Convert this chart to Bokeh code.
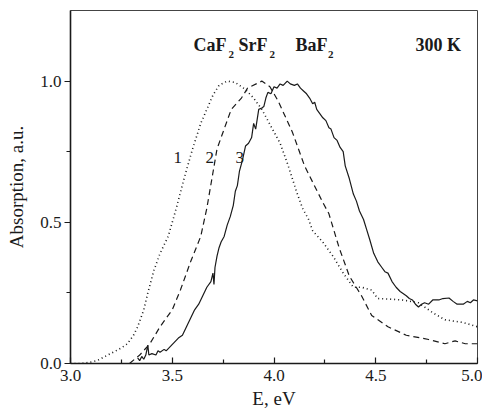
from bokeh.plotting import figure
from bokeh.models import Range1d, FixedTicker, Label, PrintfTickFormatter
from bokeh.embed import file_html
from bokeh.resources import INLINE

# Curve 1: CaF2 (dotted)
E1 = [3.00, 3.05, 3.10, 3.13, 3.17, 3.21, 3.25, 3.28, 3.31, 3.33, 3.36, 3.38, 3.41, 3.44,
      3.48, 3.52, 3.56, 3.60, 3.64, 3.67, 3.70, 3.73, 3.77, 3.81, 3.86, 3.90, 3.94, 4.00,
      4.03, 4.07, 4.11, 4.14, 4.17, 4.19, 4.24, 4.29, 4.34, 4.39, 4.43, 4.48, 4.51, 4.57,
      4.63, 4.71, 4.78, 4.84, 4.93, 5.00]
A1 = [0.0, 0.0, 0.005, 0.01, 0.025, 0.04, 0.055, 0.07, 0.10, 0.13, 0.19, 0.25, 0.33, 0.39,
      0.45, 0.55, 0.66, 0.76, 0.85, 0.90, 0.95, 0.985, 1.0, 0.995, 0.97, 0.94, 0.90, 0.82,
      0.78, 0.70, 0.61, 0.55, 0.51, 0.47, 0.43, 0.38, 0.32, 0.27, 0.27, 0.26, 0.23, 0.228,
      0.225, 0.215, 0.18, 0.155, 0.145, 0.13]

# Curve 2: SrF2 (dashed)
E2 = [3.29, 3.34, 3.39, 3.44, 3.50, 3.54, 3.59, 3.64, 3.67, 3.72, 3.79, 3.84, 3.87, 3.94,
      3.98, 4.02, 4.09, 4.15, 4.24, 4.27, 4.32, 4.37, 4.43, 4.48, 4.56, 4.65, 4.76, 4.84,
      4.89, 4.94, 5.00]
A2 = [0.0, 0.03, 0.07, 0.13, 0.19, 0.26, 0.36, 0.45, 0.55, 0.76, 0.90, 0.94, 0.975, 1.0,
      0.98, 0.93, 0.82, 0.70, 0.57, 0.53, 0.41, 0.31, 0.24, 0.17, 0.13, 0.10, 0.085, 0.07,
      0.08, 0.07, 0.07]

# Curve 3: BaF2 (solid, noisy)
E3 = [3.33, 3.34, 3.35, 3.36, 3.37, 3.38, 3.385, 3.40, 3.42, 3.43, 3.44, 3.46, 3.47, 3.49,
      3.51, 3.53, 3.55, 3.57, 3.59, 3.61, 3.63, 3.65, 3.67, 3.69, 3.70, 3.705, 3.71, 3.72,
      3.73, 3.74, 3.755, 3.77, 3.785, 3.80, 3.81, 3.82, 3.83, 3.845, 3.86, 3.875, 3.89, 3.90,
      3.91, 3.925, 3.94, 3.95, 3.96, 3.97, 3.985, 4.00, 4.015, 4.03, 4.045, 4.065, 4.08, 4.10,
      4.115, 4.13, 4.145, 4.16, 4.175, 4.19, 4.20, 4.21, 4.225, 4.24, 4.255, 4.27, 4.28, 4.295,
      4.31, 4.325, 4.34, 4.35, 4.37, 4.39, 4.405, 4.42, 4.44, 4.455, 4.47, 4.49, 4.51, 4.53,
      4.545, 4.56, 4.58, 4.60, 4.62, 4.65, 4.665, 4.68, 4.695, 4.71, 4.725, 4.74, 4.76, 4.78,
      4.81, 4.83, 4.86, 4.88, 4.90, 4.93, 4.95, 4.965, 4.98, 5.00]
A3 = [0.02, 0.01, 0.025, 0.015, 0.03, 0.065, 0.03, 0.035, 0.03, 0.045, 0.04, 0.05, 0.045, 0.06,
      0.075, 0.09, 0.10, 0.13, 0.16, 0.19, 0.21, 0.24, 0.27, 0.29, 0.32, 0.28, 0.34, 0.38,
      0.41, 0.43, 0.45, 0.49, 0.52, 0.56, 0.61, 0.63, 0.68, 0.72, 0.77, 0.78, 0.80, 0.85,
      0.83, 0.90, 0.905, 0.91, 0.94, 0.96, 0.955, 0.98, 0.975, 0.99, 0.985, 1.0, 0.99, 0.985,
      0.99, 0.975, 0.965, 0.955, 0.94, 0.92, 0.925, 0.90, 0.885, 0.87, 0.86, 0.835, 0.83, 0.80,
      0.79, 0.765, 0.75, 0.70, 0.655, 0.60, 0.575, 0.54, 0.51, 0.475, 0.44, 0.39, 0.36, 0.34,
      0.325, 0.32, 0.29, 0.27, 0.255, 0.24, 0.23, 0.225, 0.21, 0.20, 0.21, 0.215, 0.21, 0.225,
      0.225, 0.23, 0.232, 0.22, 0.21, 0.21, 0.22, 0.215, 0.225, 0.222]

x_ticks = [3.0, 3.5, 4.0, 4.5, 5.0]
y_ticks = [0.0, 0.5, 1.0]

FONT = "Liberation Serif"
INK = "#1a1a1a"

p = figure(width=482, height=412, output_backend="svg", toolbar_location=None,
           x_range=Range1d(3.0, 5.0), y_range=Range1d(0.0, 1.25),
           min_border_left=70, min_border_right=5, min_border_top=10, min_border_bottom=49)
p.grid.visible = False
p.background_fill_color = "white"
p.border_fill_color = "white"
p.outline_line_color = "#444444"
p.outline_line_width = 1

p.line(E1, A1, line_color=INK, line_width=1.6, line_dash="1 3")
p.line(E2, A2, line_color=INK, line_width=1.2, line_dash="6 4")
p.line(E3, A3, line_color=INK, line_width=1.2)

xa = p.xaxis[0]
xa.ticker = FixedTicker(ticks=x_ticks, minor_ticks=[3.25, 3.75, 4.25, 4.75])
xa.major_tick_in = 6
xa.major_tick_out = 0
xa.minor_tick_in = 4
xa.minor_tick_out = 0
xa.axis_label = "E, eV"
xa.major_label_standoff = 6
xa.axis_label_standoff = 4

ya = p.yaxis[0]
ya.ticker = FixedTicker(ticks=y_ticks, minor_ticks=[0.25, 0.75])
ya.major_tick_in = 0
ya.major_tick_out = 6
ya.minor_tick_in = 0
ya.minor_tick_out = 4
ya.axis_label = "Absorption, a.u."
ya.major_label_standoff = 3
ya.axis_label_standoff = 10

for ax in (xa, ya):
    ax.formatter = PrintfTickFormatter(format="%.1f")
    ax.axis_line_color = INK
    ax.axis_line_width = 1.6
    ax.major_tick_line_color = INK
    ax.major_tick_line_width = 1.2
    ax.minor_tick_line_color = INK
    ax.minor_tick_line_width = 1.2
    ax.major_label_text_font = FONT
    ax.major_label_text_font_size = "17px"
    ax.major_label_text_color = INK
    ax.axis_label_text_font = FONT
    ax.axis_label_text_font_size = "19px"
    ax.axis_label_text_font_style = "normal"
    ax.axis_label_text_color = INK

def lab(x, y, t, size, style="bold"):
    p.add_layout(Label(x=x, y=y, text=t, text_font=FONT, text_font_size=size,
                       text_font_style=style, text_color=INK,
                       text_align="left", text_baseline="alphabetic"))

lab(3.604, 1.127, "CaF", "18px")
lab(3.777, 1.094, "2", "11px")
lab(3.826, 1.127, "SrF", "18px")
lab(3.978, 1.094, "2", "11px")
lab(4.106, 1.127, "BaF", "18px")
lab(4.265, 1.094, "2", "11px")
lab(4.695, 1.127, "300 K", "18px")

lab(3.506, 0.728, "1", "17px", "normal")
lab(3.663, 0.728, "2", "17px", "normal")
lab(3.811, 0.728, "3", "17px", "normal")

open("out.html", "w").write(file_html(p, INLINE))
